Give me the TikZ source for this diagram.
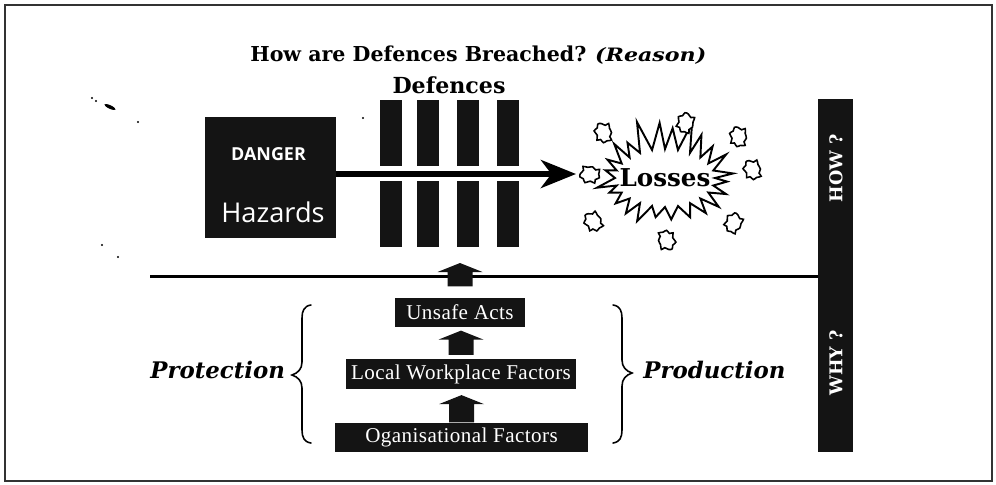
\documentclass[tikz,border=0pt]{standalone}
\usepackage{fontspec}
\usetikzlibrary{arrows.meta,calc}
\newfontfamily\slab{DejaVu Serif}
\newfontfamily\sansf{Open Sans}
\newfontfamily\plainserif[LetterSpace=2]{Liberation Serif}
% upward block arrow: shaft from #1 up to the head whose tip is #2
\newcommand\blockup[2]{%
  \fill[ink] ($(#1)+(-12.5,0)$) -- ($(#1)+(12.5,0)$) -- ($(#1 |- #2)+(12.5,9)$)
    -- ($(#1 |- #2)+(22.5,9)$) -- (#1 |- #2) -- ($(#1 |- #2)+(-22.5,9)$)
    -- ($(#1 |- #2)+(-12.5,9)$) -- cycle;}
\begin{document}
\begin{tikzpicture}[x=0.02cm,y=-0.02cm,
  ink/.style={fill=black!92},
  solid box/.style={ink, draw=none, inner sep=0pt, minimum width=#1},
  factorbox/.style={solid box=#1, minimum height=0.59cm, text=white,
    font=\plainserif\fontsize{12}{14}\selectfont},
  defbar/.style={solid box=0.44cm, minimum height=1.32cm},
  heading/.style={inner sep=0pt, font=\slab\bfseries\fontsize{11.7}{14}\selectfont},
  sidelabel/.style={inner sep=0pt, font=\slab\bfseries\itshape\fontsize{13}{15}\selectfont, anchor=base west},
  barlabel/.style={text=white, rotate=90, font=\slab\bfseries\fontsize{10}{12}\selectfont},
  bracepath/.style={line width=0.9pt, line cap=round},
  puff/.pic={\draw[line width=0.9pt, fill=white, scale=1.2] plot[smooth cycle, tension=0.7]
    coordinates {(0,-8) (3,-6) (6,-7) (6,-3) (7,1) (5,4) (6,7) (2,7) (-1,8)
                 (-3,5) (-6,5) (-5,1) (-7,-3) (-4,-5) (-3,-8)};}
]
\useasboundingbox (0,0) rectangle (996,484);
\draw[line width=1.1pt, black!80] (5,5) rectangle (992,481);

% headings
\node[heading, anchor=base west] (title) at (250,61) {How are Defences Breached?};
\node[inner sep=0pt, font=\slab\bfseries\itshape\fontsize{10.5}{12}\selectfont, anchor=base west,
      xscale=1.2] (reason) at ($(title.base east)+(8,0)$) {(Reason)};
\node[heading, anchor=base, font=\slab\bfseries\fontsize{12.6}{14}\selectfont] (deftitle) at (449,93) {Defences};

% source of danger
\node[solid box=2.62cm, minimum height=2.42cm] (danger) at (270.5,177.5) {};
\node[text=white, font=\sansf\bfseries\fontsize{10.2}{12}\selectfont, anchor=base] (dangerlbl) at (268.5,160) {DANGER};
\node[text=white, font=\sansf\fontsize{15.5}{18}\selectfont, anchor=base] (hazards) at (273,222) {Hazards};

% layers of defence
\foreach \n/\x in {1/391,2/428,3/468,4/508}{
  \node[defbar] (up\n) at (\x,133) {};
  \node[defbar] (lo\n) at (\x,214) {};
}

% explosion of losses
\pgfmathsetseed{23}
\draw[line width=1.1pt, fill=white, line join=miter]
  (715,178) \foreach \i [evaluate=\i as \o using \i-2*floor(\i/2),
                         evaluate=\i as \a using \i*7.5+\o*3*rand,
                         evaluate=\i as \k using \o*(0.8+0.3*rand)] in {1,...,47}
  { -- ({665+(50+\k*19)*cos(\a)}, {178+(29+\k*(26-8*sin(\a)))*sin(\a)}) } -- cycle;
\node[font=\slab\bfseries\fontsize{14}{16}\selectfont] (losses) at (665,178) {Losses};
\foreach \px/\py/\r in {603/133/10, 685/123/-20, 738/137/0, 752/170/15,
                        590/175/80, 593/222/30, 733/223/-30, 667/240/190}
  \pic[rotate=\r] at (\px,\py) {puff};

\coordinate (hit) at (576,174);
\draw[line width=3pt, -{Stealth[length=20pt, width=16pt, inset=6pt]}]
  ($(danger.east)+(0,-3.5)$) -- (hit);

% right-hand bar
\node[solid box=0.7cm, minimum height=7.06cm] (bar) at (835.5,275.5) {};
\node[barlabel] (how) at (836,168) {HOW ?};
\node[barlabel] (why) at (836,363) {WHY ?};

% dividing line
\coordinate (lineL) at (150,276);
\draw[line width=1.7pt] (lineL) -- (bar.west |- lineL);

% causal chain
\node[factorbox=2.6cm] (unsafe) at (460,312.5) {Unsafe Acts};
\node[factorbox=4.6cm] (local) at (461,374) {Local Workplace Factors};
\node[factorbox=5.06cm] (org) at (461.5,437.5) {Oganisational Factors};

\coordinate (b1) at ($(unsafe.north)+(0,-11)$);
\coordinate (t1) at (460,263);
\coordinate (b2) at ($(local.north)+(0,-4)$);
\coordinate (t2) at ($(unsafe.south)+(0,3)$);
\coordinate (b3) at ($(org.north)+(0,0)$);
\coordinate (t3) at ($(local.south)+(0,6)$);
\blockup{b1}{t1}
\blockup{b2}{t2}
\blockup{b3}{t3}

% braces and side labels
\draw[bracepath] (311,305) .. controls (304,306) and (302,311) .. (302,318) -- (302,362)
  .. controls (302,369) and (298,373) .. (292,375) .. controls (298,377) and (302,381) .. (302,388)
  -- (302,430) .. controls (302,437) and (304,442) .. (311,443);
\draw[bracepath] (613,305) .. controls (620,306) and (622,311) .. (622,318) -- (622,360)
  .. controls (622,367) and (626,371) .. (632,373) .. controls (626,375) and (622,379) .. (622,386)
  -- (622,430) .. controls (622,437) and (620,442) .. (613,443);
\node[sidelabel] (protection) at (150,378) {Protection};
\node[sidelabel] (production) at (643,378) {Production};

% specks of ink
\foreach \sx/\sy in {92/98, 96/101, 138/122, 102/245, 118/257, 363/118}
  \fill (\sx,\sy) circle[radius=0.7pt];
\fill[rotate around={-25:(110,107)}] (110,107) ellipse[x radius=3.5pt, y radius=1pt];
\end{tikzpicture}
\end{document}
